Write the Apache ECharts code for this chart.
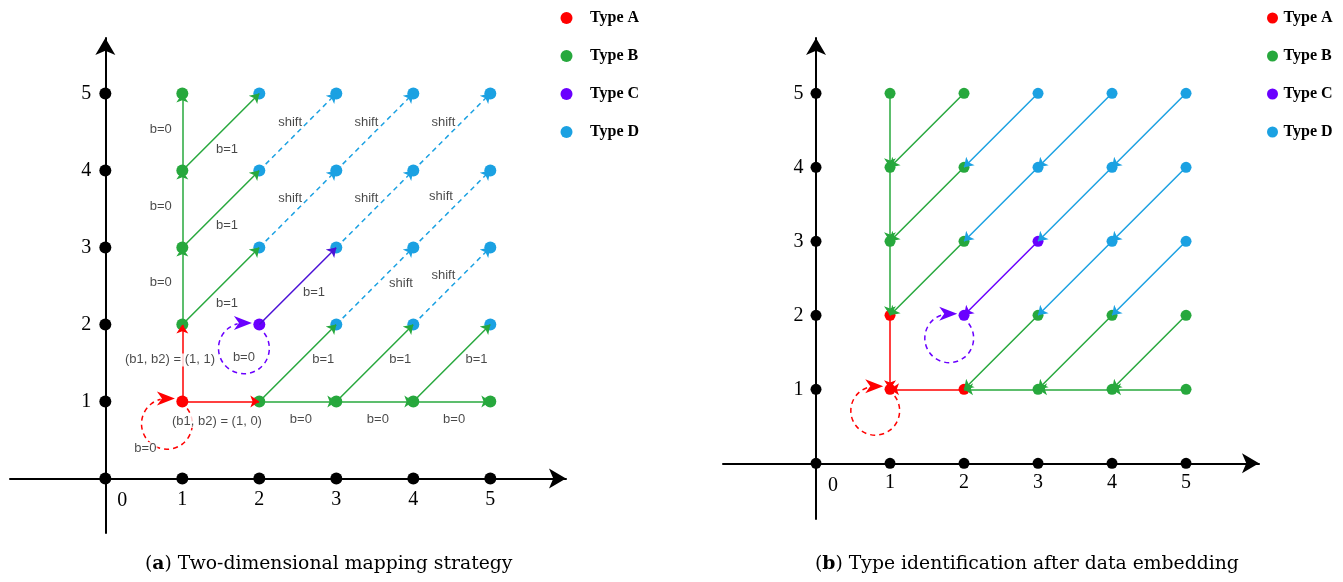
<!DOCTYPE html>
<html>
<head>
<meta charset="utf-8">
<script src="https://cdn.jsdelivr.net/npm/echarts@6/dist/echarts.min.js"></script>
<style>
  html, body { margin: 0; padding: 0; background: #fff; }
  #main { width: 1343px; height: 582px; }
</style>
</head>
<body>
<div id="main"></div>
<script>
// axis ticks (black dots) and the origin
var ticks = [1, 2, 3, 4, 5];
var origin = [[0, 0]];
var typeNames = ['Type A', 'Type B', 'Type C', 'Type D'];

// (a) node types
var aTypeA = [[1, 1]];
var aTypeB = [[1, 2], [1, 3], [1, 4], [1, 5], [2, 1], [3, 1], [4, 1], [5, 1]];
var aTypeC = [[2, 2]];
var aTypeD = [[2, 3], [2, 4], [2, 5], [3, 2], [3, 3], [3, 4], [3, 5], [4, 2], [4, 3], [4, 4], [4, 5], [5, 2], [5, 3], [5, 4], [5, 5]];

// (b) node types after embedding
var bTypeA = [[1, 1], [1, 2], [2, 1]];
var bTypeB = [[1, 3], [1, 4], [1, 5], [2, 3], [2, 4], [2, 5], [3, 1], [3, 2], [4, 1], [4, 2], [5, 1], [5, 2]];
var bTypeC = [[2, 2], [3, 3]];
var bTypeD = [[3, 4], [3, 5], [4, 3], [4, 4], [4, 5], [5, 3], [5, 4], [5, 5]];

// edges: forward in (a), reversed in (b)
var edgesA = [[[1, 1], [1, 2]], [[1, 1], [2, 1]]];
var edgesB = [[[1, 2], [1, 3]], [[1, 3], [1, 4]], [[1, 4], [1, 5]],
  [[1, 2], [2, 3]], [[1, 3], [2, 4]], [[1, 4], [2, 5]],
  [[2, 1], [3, 1]], [[3, 1], [4, 1]], [[4, 1], [5, 1]],
  [[2, 1], [3, 2]], [[3, 1], [4, 2]], [[4, 1], [5, 2]]];
var edgesC = [[[2, 2], [3, 3]]];
var edgesD = [[[2, 3], [3, 4]], [[2, 4], [3, 5]], [[3, 3], [4, 4]], [[3, 4], [4, 5]],
  [[4, 3], [5, 4]], [[4, 4], [5, 5]], [[3, 2], [4, 3]], [[4, 2], [5, 3]]];

// self loops: centre x, centre y, radius
var loopA = [[0.80, 0.71, 0.33]];
var loopC = [[1.80, 1.69, 0.33]];

// edge labels in (a): text, x, y
var notesA = [
  ['b=0', 0.72, 4.53], ['b=0', 0.72, 3.54], ['b=0', 0.72, 2.54],
  ['b=1', 1.58, 4.28], ['b=1', 1.58, 3.29], ['b=1', 1.58, 2.28],
  ['b=1', 2.71, 2.42],
  ['shift', 2.40, 4.63], ['shift', 3.39, 4.63], ['shift', 4.39, 4.63],
  ['shift', 2.40, 3.64], ['shift', 3.39, 3.64], ['shift', 4.36, 3.66],
  ['shift', 3.84, 2.53], ['shift', 4.39, 2.64],
  ['(b1, b2) = (1, 1)', 0.84, 1.54], ['(b1, b2) = (1, 0)', 1.45, 0.74],
  ['b=0', 0.52, 0.39], ['b=0', 1.80, 1.57],
  ['b=1', 2.83, 1.54], ['b=1', 3.83, 1.54], ['b=1', 4.82, 1.54],
  ['b=0', 2.54, 0.77], ['b=0', 3.54, 0.77], ['b=0', 4.53, 0.77]
];

var RED = '#ff0000', GREEN = '#27a83d', PURPLE = '#6a00ff', BLUE = '#1ba1e2';
var SERIF = 'Liberation Serif', SANS = 'Liberation Sans';

function dots(name, data, g, color, size) {
  return {
    name: name, type: 'scatter', xAxisIndex: g, yAxisIndex: g,
    data: data, symbolSize: size, itemStyle: { color: color, opacity: 1 }, z: 3
  };
}

function tickDots(g, size, dist) {
  var xs = ticks.map(function (t) { return [t, 0]; });
  var ys = ticks.map(function (t) { return [0, t]; });
  var lab = { fontFamily: SERIF, fontSize: 20, color: '#000' };
  var st = { color: '#000', opacity: 1 };
  return [
    { type: 'scatter', xAxisIndex: g, yAxisIndex: g, data: xs, symbolSize: size,
      itemStyle: st, z: 3,
      label: Object.assign({ show: true, position: 'bottom', distance: dist,
        formatter: function (p) { return p.value[0]; } }, lab) },
    { type: 'scatter', xAxisIndex: g, yAxisIndex: g, data: ys, symbolSize: size,
      itemStyle: st, z: 3,
      label: Object.assign({ show: true, position: 'left', distance: dist + 3,
        formatter: function (p) { return p.value[1]; } }, lab) },
    { type: 'scatter', xAxisIndex: g, yAxisIndex: g, data: origin, symbolSize: size,
      itemStyle: st, z: 3,
      label: Object.assign({ show: true, position: 'inside', offset: [17, 22],
        formatter: function (p) { return p.value[0]; } }, lab) }
  ];
}

function edges(list, g, color, reverse, dashed) {
  return {
    type: 'lines', coordinateSystem: 'cartesian2d', xAxisIndex: g, yAxisIndex: g,
    data: list.map(function (e) { return { coords: reverse ? [e[1], e[0]] : [e[0], e[1]] }; }),
    symbol: ['none', 'arrow'], symbolSize: 9,
    lineStyle: { color: color, width: 1.5, opacity: 1, type: dashed ? [5, 4] : 'solid' },
    z: 4, silent: true
  };
}

function renderLoop(params, api) {
  var c = api.coord([api.value(0), api.value(1)]);
  var r = api.size([api.value(2), 0])[0];
  var color = api.visual('color');
  var ty = c[1] - r;
  return {
    type: 'group',
    children: [
      { type: 'arc',
        shape: { cx: c[0], cy: c[1], r: r, startAngle: -0.65, endAngle: Math.PI * 1.42, clockwise: true },
        style: { stroke: color, fill: null, lineWidth: 1.5, lineDash: [5, 4] } },
      { type: 'polygon',
        shape: { points: [[c[0] - 10, ty - 7], [c[0] + 8, ty], [c[0] - 10, ty + 7], [c[0] - 5, ty]] },
        style: { fill: color } }
    ]
  };
}

function loops(list, g, color) {
  return {
    type: 'custom', xAxisIndex: g, yAxisIndex: g, data: list,
    renderItem: renderLoop, itemStyle: { color: color }, z: 4, silent: true
  };
}

function axisOf(g, min, max) {
  return {
    type: 'value', gridIndex: g, min: min, max: max,
    axisLine: { onZero: true, lineStyle: { color: '#000', width: 2 }, symbol: ['none', 'arrow'], symbolSize: [15, 17] },
    axisTick: { show: false }, axisLabel: { show: false }, splitLine: { show: false }
  };
}

var series = [];
series = series.concat(tickDots(0, 12, 5), tickDots(1, 11, 4));
series.push(
  dots('Type A', aTypeA, 0, RED, 12), dots('Type B', aTypeB, 0, GREEN, 12),
  dots('Type C', aTypeC, 0, PURPLE, 12), dots('Type D', aTypeD, 0, BLUE, 12),
  dots('Type A', bTypeA, 1, RED, 11), dots('Type B', bTypeB, 1, GREEN, 11),
  dots('Type C', bTypeC, 1, PURPLE, 11), dots('Type D', bTypeD, 1, BLUE, 11)
);
series.push(
  edges(edgesA, 0, RED, false, false), edges(edgesB, 0, GREEN, false, false),
  edges(edgesC, 0, '#4b12d6', false, false), edges(edgesD, 0, BLUE, false, true),
  edges(edgesA, 1, RED, true, false), edges(edgesB, 1, GREEN, true, false),
  edges(edgesC, 1, PURPLE, true, false), edges(edgesD, 1, BLUE, true, false),
  loops(loopA, 0, RED), loops(loopC, 0, PURPLE),
  loops(loopA, 1, RED), loops(loopC, 1, PURPLE)
);
series.push({
  type: 'scatter', xAxisIndex: 0, yAxisIndex: 0, symbolSize: 0, z: 5, silent: true,
  data: notesA.map(function (n) { return { name: n[0], value: [n[1], n[2]] }; }),
  label: { show: true, position: 'inside', formatter: '{b}', fontFamily: SANS, fontSize: 13,
    color: '#1a1a1a', backgroundColor: '#fff', padding: [0, 1] }
});

var legendBase = {
  data: typeNames, orient: 'vertical', icon: 'circle', padding: 0, itemGap: 22,
  textStyle: { fontFamily: SERIF, fontWeight: 'bold', fontSize: 16, color: '#000' }
};

var capStyle = { fontFamily: 'DejaVu Serif', fontSize: 18.8, fontWeight: 'normal', color: '#000',
  rich: { b: { fontFamily: 'DejaVu Serif', fontSize: 18.8, fontWeight: 'bold', color: '#000' } } };

var chart = echarts.init(document.getElementById('main'));
chart.setOption({
  animation: false,
  backgroundColor: '#fff',
  title: [
    { text: '({b|a}) Two-dimensional mapping strategy', left: 145, top: 555, padding: 0, textStyle: capStyle },
    { text: '({b|b}) Type identification after data embedding', left: 815, top: 555, padding: 0, textStyle: capStyle }
  ],
  legend: [
    Object.assign({}, legendBase, { left: 560.5, top: 10, itemWidth: 37, itemHeight: 12 }),
    Object.assign({}, legendBase, { left: 1267, top: 10, itemWidth: 12, itemHeight: 11 })
  ],
  grid: [
    { left: 10, top: 38, width: 556, height: 495 },
    { left: 723, top: 38, width: 536, height: 481 }
  ],
  xAxis: [axisOf(0, -1.238, 5.983), axisOf(1, -1.257, 5.986)],
  yAxis: [axisOf(0, -0.708, 5.721), axisOf(1, -0.753, 5.747)],
  series: series
});
</script>
</body>
</html>
